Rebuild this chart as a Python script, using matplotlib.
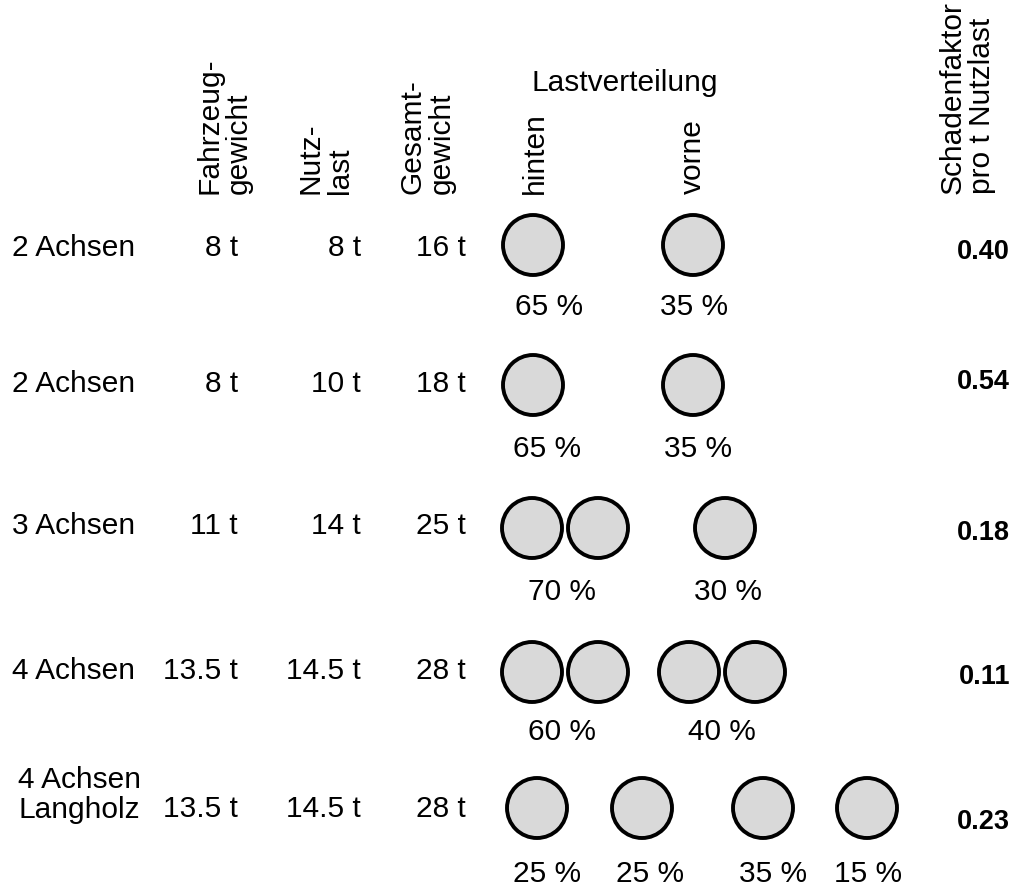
import matplotlib.pyplot as plt
from matplotlib.patches import Circle

plt.rcParams['font.family'] = ['Liberation Sans', 'DejaVu Sans']

# table values
vehicles = ['2 Achsen', '2 Achsen', '3 Achsen', '4 Achsen', '4 Achsen\nLangholz']
fahrzeug = [8, 8, 11, 13.5, 13.5]
nutzlast = [8, 10, 14, 14.5, 14.5]
gesamt = [16, 18, 25, 28, 28]
# axle groups: number of axles per group and share of the load
axles = [[1, 1], [1, 1], [2, 1], [2, 2], [1, 1, 1, 1]]
shares = [[65, 35], [65, 35], [70, 30], [60, 40], [25, 25, 35, 15]]
schaden = [0.40, 0.54, 0.18, 0.11, 0.23]

# layout (pixel units)
row_y = [248, 384, 526, 671, 809]
circle_y = [245, 385, 528, 672, 808]
label_y = [307, 449, 592, 732, 874]
group_x = [[533, 693], [533, 693], [565, 725], [565, 722], [537, 642, 763, 867]]
label_x = [[549, 694], [547, 698], [562, 728], [562, 722], [547, 650, 773, 868]]
factor_y = [252, 382, 533, 677, 822]
r = 30
axle_gap = 66

fig = plt.figure(figsize=(10.14, 8.9), dpi=100)
ax = fig.add_axes([0, 0, 1, 1])
ax.set_xlim(0, 1014)
ax.set_ylim(890, 0)
ax.axis('off')

fs = 21.5
# headers
hdr = dict(rotation=90, fontsize=fs, ha='center', va='bottom', linespacing=1.05,
           multialignment='left')
ax.text(224, 194, 'Fahrzeug-\ngewicht', **hdr)
ax.text(325, 194, 'Nutz-\nlast', **hdr)
ax.text(427, 194, 'Gesamt-\ngewicht', **hdr)
ax.text(535, 194, 'hinten', **hdr)
ax.text(693, 194, 'vorne', **hdr)
ax.text(967, 194, 'Schadenfaktor\npro t Nutzlast', **hdr)
ax.text(625, 83, 'Lastverteilung', fontsize=fs, ha='center', va='center')

for i in range(len(vehicles)):
    y = row_y[i]
    if '\n' in vehicles[i]:
        ax.text(79, y - 14, vehicles[i], fontsize=fs, ha='center', va='center',
                linespacing=1.05)
    else:
        ax.text(12, y, vehicles[i], fontsize=fs, ha='left', va='center')
    ax.text(238, y, f'{fahrzeug[i]:g} t', fontsize=fs, ha='right', va='center')
    ax.text(361, y, f'{nutzlast[i]:g} t', fontsize=fs, ha='right', va='center')
    ax.text(466, y, f'{gesamt[i]:g} t', fontsize=fs, ha='right', va='center')
    ax.text(1010, factor_y[i], f'{schaden[i]:.2f}', fontsize=19.5, fontweight='bold',
            ha='right', va='center')
    for j, n in enumerate(axles[i]):
        cx = group_x[i][j]
        offs = [(k - (n - 1) / 2) * axle_gap for k in range(n)]
        for o in offs:
            ax.add_patch(Circle((cx + o, circle_y[i]), r, facecolor='#d9d9d9',
                                edgecolor='black', linewidth=2.8))
        ax.text(label_x[i][j], label_y[i], f'{shares[i][j]} %', fontsize=fs,
                ha='center', va='center')

fig.savefig('out.png', dpi=100, facecolor='white')
